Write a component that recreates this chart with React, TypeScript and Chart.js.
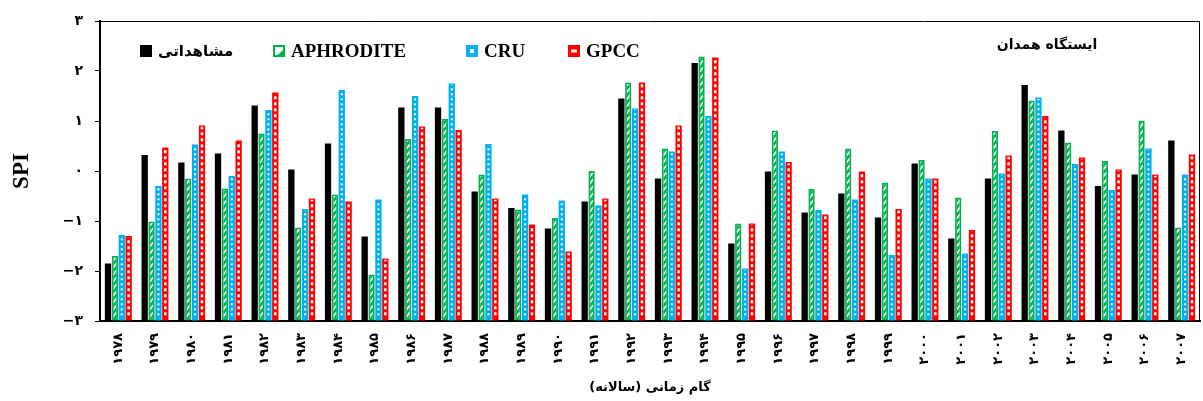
import React, { useEffect, useRef } from 'react';
import { Chart, registerables } from 'chart.js';

Chart.register(...registerables);

const categories = ['۱۹۷۸', '۱۹۷۹', '۱۹۸۰', '۱۹۸۱', '۱۹۸۲', '۱۹۸۳', '۱۹۸۴', '۱۹۸۵', '۱۹۸۶', '۱۹۸۷', '۱۹۸۸', '۱۹۸۹', '۱۹۹۰', '۱۹۹۱', '۱۹۹۲', '۱۹۹۳', '۱۹۹۴', '۱۹۹۵', '۱۹۹۶', '۱۹۹۷', '۱۹۹۸', '۱۹۹۹', '۲۰۰۰', '۲۰۰۱', '۲۰۰۲', '۲۰۰۳', '۲۰۰۴', '۲۰۰۵', '۲۰۰۶', '۲۰۰۷'];

const observed = [-1.85, 0.32, 0.17, 0.35, 1.31, 0.03, 0.55, -1.31, 1.27, 1.27, -0.41, -0.74, -1.15, -0.61, 1.45, -0.15, 2.16, -1.45, -0.01, -0.83, -0.45, -0.93, 0.15, -1.35, -0.15, 1.72, 0.81, -0.30, -0.07, 0.61];
const aphrodite = [-1.70, -1.01, -0.15, -0.35, 0.75, -1.13, -0.47, -2.07, 0.64, 1.04, -0.07, -0.77, -0.94, 0.00, 1.77, 0.45, 2.29, -1.05, 0.81, -0.36, 0.45, -0.23, 0.22, -0.53, 0.80, 1.41, 0.57, 0.20, 1.01, -1.13];
const cru = [-1.28, -0.30, 0.53, -0.10, 1.22, -0.76, 1.62, -0.57, 1.50, 1.75, 0.54, -0.47, -0.59, -0.69, 1.25, 0.39, 1.10, -1.95, 0.39, -0.78, -0.57, -1.68, -0.15, -1.65, -0.05, 1.47, 0.14, -0.38, 0.45, -0.07];
const gpcc = [-1.30, 0.47, 0.91, 0.61, 1.57, -0.55, -0.61, -1.75, 0.89, 0.82, -0.55, -1.07, -1.61, -0.55, 1.77, 0.91, 2.27, -1.05, 0.18, -0.87, -0.01, -0.76, -0.15, -1.18, 0.31, 1.10, 0.27, 0.03, -0.07, 0.33];

const seriesNames = ['مشاهداتی', 'APHRODITE', 'CRU', 'GPCC'];
const yTickValues = [-3, -2, -1, 0, 1, 2, 3];
const yTickLabels = ['−۳', '−۲', '−۱', '۰', '۱', '۲', '۳'];
const stationTitle = 'ایستگاه همدان';
const xTitle = '\u200Fگام زمانی (سالانه)\u200F';
const yTitle = 'SPI';

const BLACK = '#000000';
const GREEN = '#00b050';
const BLUE = '#00b0f0';
const RED = '#ff0000';

// legend item offsets from the plot's left edge (layout only)
const LEGEND_OFFSETS = [40, 173, 366, 468];

function drawDecoration(ctx: CanvasRenderingContext2D, kind: number, left: number, top: number, w: number, h: number) {
  ctx.save();
  ctx.beginPath();
  ctx.rect(left, top, w, h);
  ctx.clip();
  ctx.fillStyle = '#ffffff';
  ctx.strokeStyle = '#ffffff';
  const cx = left + w / 2;
  if (kind === 1) {
    ctx.lineWidth = 1.6;
    for (let yy = top + h - 2; yy > top - 8; yy -= 7) {
      ctx.beginPath();
      ctx.moveTo(cx - 1.6, yy);
      ctx.lineTo(cx + 1.6, yy - 4.5);
      ctx.stroke();
    }
  } else if (kind === 2) {
    for (let yy = top + h - 4; yy > top; yy -= 5) {
      ctx.fillRect(cx - 1, yy - 2, 2, 2);
    }
  } else if (kind === 3) {
    for (let yy = top + h - 4; yy > top; yy -= 6) {
      ctx.fillRect(cx - 1.25, yy - 3, 2.5, 3);
    }
  }
  ctx.restore();
}

const barPatternPlugin = {
  id: 'barPatterns',
  afterDatasetsDraw(chart: any) {
    const ctx = chart.ctx as CanvasRenderingContext2D;
    chart.data.datasets.forEach((_ds: any, i: number) => {
      if (i === 0) return;
      const meta = chart.getDatasetMeta(i);
      meta.data.forEach((el: any) => {
        const p = el.getProps(['x', 'y', 'base', 'width'], true);
        const inset = i === 1 ? 1.8 : 1.2;
        const left = p.x - p.width / 2 + inset;
        const top = Math.min(p.y, p.base) + inset;
        const w = p.width - inset * 2;
        const h = Math.abs(p.base - p.y) - inset * 2;
        if (w > 0 && h > 0) drawDecoration(ctx, i, left, top, w, h);
      });
    });
  },
};

function drawLegendBox(ctx: CanvasRenderingContext2D, i: number, x: number, y: number, s: number) {
  ctx.save();
  if (i === 0) {
    ctx.fillStyle = BLACK;
    ctx.fillRect(x, y, s, s);
  } else if (i === 1) {
    ctx.fillStyle = '#ffffff';
    ctx.fillRect(x, y, s, s);
    ctx.fillStyle = GREEN;
    ctx.beginPath();
    ctx.moveTo(x + s, y + 3);
    ctx.lineTo(x + s, y + s);
    ctx.lineTo(x + 3, y + s);
    ctx.closePath();
    ctx.fill();
    ctx.strokeStyle = GREEN;
    ctx.lineWidth = 2;
    ctx.strokeRect(x + 1, y + 1, s - 2, s - 2);
  } else if (i === 2) {
    ctx.fillStyle = BLUE;
    ctx.fillRect(x, y, s, s);
    ctx.fillStyle = '#ffffff';
    ctx.fillRect(x + s / 2 - 2, y + s / 2 - 2, 4, 4);
  } else {
    ctx.fillStyle = RED;
    ctx.fillRect(x, y, s, s);
    ctx.fillStyle = '#ffffff';
    ctx.fillRect(x + 3, y + s / 2 - 1.5, s - 6, 3);
  }
  ctx.restore();
}

const overlayPlugin = {
  id: 'overlay',
  afterDraw(chart: any) {
    const ctx = chart.ctx as CanvasRenderingContext2D;
    const a = chart.chartArea;
    ctx.save();
    ctx.strokeStyle = '#000000';
    ctx.lineWidth = 1;
    ctx.beginPath();
    ctx.moveTo(a.left, a.top + 0.5);
    ctx.lineTo(a.right - 0.5, a.top + 0.5);
    ctx.lineTo(a.right - 0.5, a.bottom);
    ctx.stroke();

    const cy = a.top + 30;
    const box = 12;
    chart.data.datasets.forEach((ds: any, i: number) => {
      const x = a.left + LEGEND_OFFSETS[i];
      drawLegendBox(ctx, i, x, cy - box / 2, box);
      ctx.font = i === 0 ? 'bold 15px "DejaVu Sans"' : 'bold 19px "Liberation Serif"';
      ctx.fillStyle = '#000000';
      ctx.textBaseline = 'middle';
      ctx.textAlign = 'left';
      ctx.fillText(ds.label, x + box + 6, cy + 1);
    });

    ctx.font = 'bold 14px "DejaVu Sans"';
    ctx.textAlign = 'center';
    ctx.textBaseline = 'middle';
    ctx.fillText(stationTitle, a.right - 153, a.top + 24);
    ctx.restore();
  },
};

export default function App() {
  const ref = useRef<HTMLCanvasElement | null>(null);

  useEffect(() => {
    if (!ref.current) return;
    const colors = [BLACK, GREEN, BLUE, RED];
    const values = [observed, aphrodite, cru, gpcc];
    const chart = new Chart(ref.current, {
      type: 'bar',
      data: {
        labels: categories,
        datasets: values.map((v, i) => ({
          label: seriesNames[i],
          data: v,
          base: -3,
          backgroundColor: colors[i],
          borderColor: colors[i],
          borderWidth: i === 1 ? 1.8 : 0,
          borderSkipped: false,
          categoryPercentage: 0.75,
          barPercentage: 0.92,
        })) as any,
      },
      options: {
        responsive: false,
        animation: false,
        devicePixelRatio: 1,
        layout: { padding: { top: 21, right: 3, left: 0, bottom: 0 } },
        plugins: {
          legend: { display: false },
          tooltip: { enabled: false },
        },
        scales: {
          x: {
            grid: { display: false },
            border: { display: true, color: '#000000', width: 2 },
            ticks: {
              autoSkip: false,
              maxRotation: 90,
              minRotation: 90,
              padding: 4,
              color: '#000000',
              font: { family: '"DejaVu Sans"', size: 13, weight: 'bold' },
            },
            title: {
              display: true,
              text: xTitle,
              color: '#000000',
              font: { family: '"DejaVu Sans"', size: 13, weight: 'bold' },
              padding: { top: 6, bottom: 6 },
            },
            afterFit: (scale: any) => { scale.height = 80; },
          },
          y: {
            min: -3,
            max: 3,
            afterBuildTicks: (scale: any) => {
              scale.ticks = yTickValues.map((v) => ({ value: v }));
            },
            grid: {
              display: true,
              drawOnChartArea: false,
              drawTicks: true,
              tickLength: 5,
              color: '#000000',
              lineWidth: 1,
            },
            border: { display: true, color: '#000000', width: 2 },
            ticks: {
              padding: 12,
              color: '#000000',
              font: { family: '"DejaVu Sans"', size: 14, weight: 'bold' },
              callback: (value: any) => {
                const idx = yTickValues.indexOf(Number(value));
                return idx >= 0 ? yTickLabels[idx] : '';
              },
            },
            title: {
              display: true,
              text: yTitle,
              color: '#000000',
              font: { family: '"Liberation Serif"', size: 23, weight: 'bold' },
              padding: { top: 8, bottom: 4 },
            },
            afterFit: (scale: any) => { scale.width = 100; },
          },
        },
      } as any,
      plugins: [barPatternPlugin, overlayPlugin],
    });
    return () => chart.destroy();
  }, []);

  return (
    <div style={{ position: 'fixed', left: 0, top: 0, width: 1203, height: 401, background: '#ffffff' }}>
      <canvas ref={ref} width={1203} height={401} style={{ width: 1203, height: 401, display: 'block' }} />
    </div>
  );
}
